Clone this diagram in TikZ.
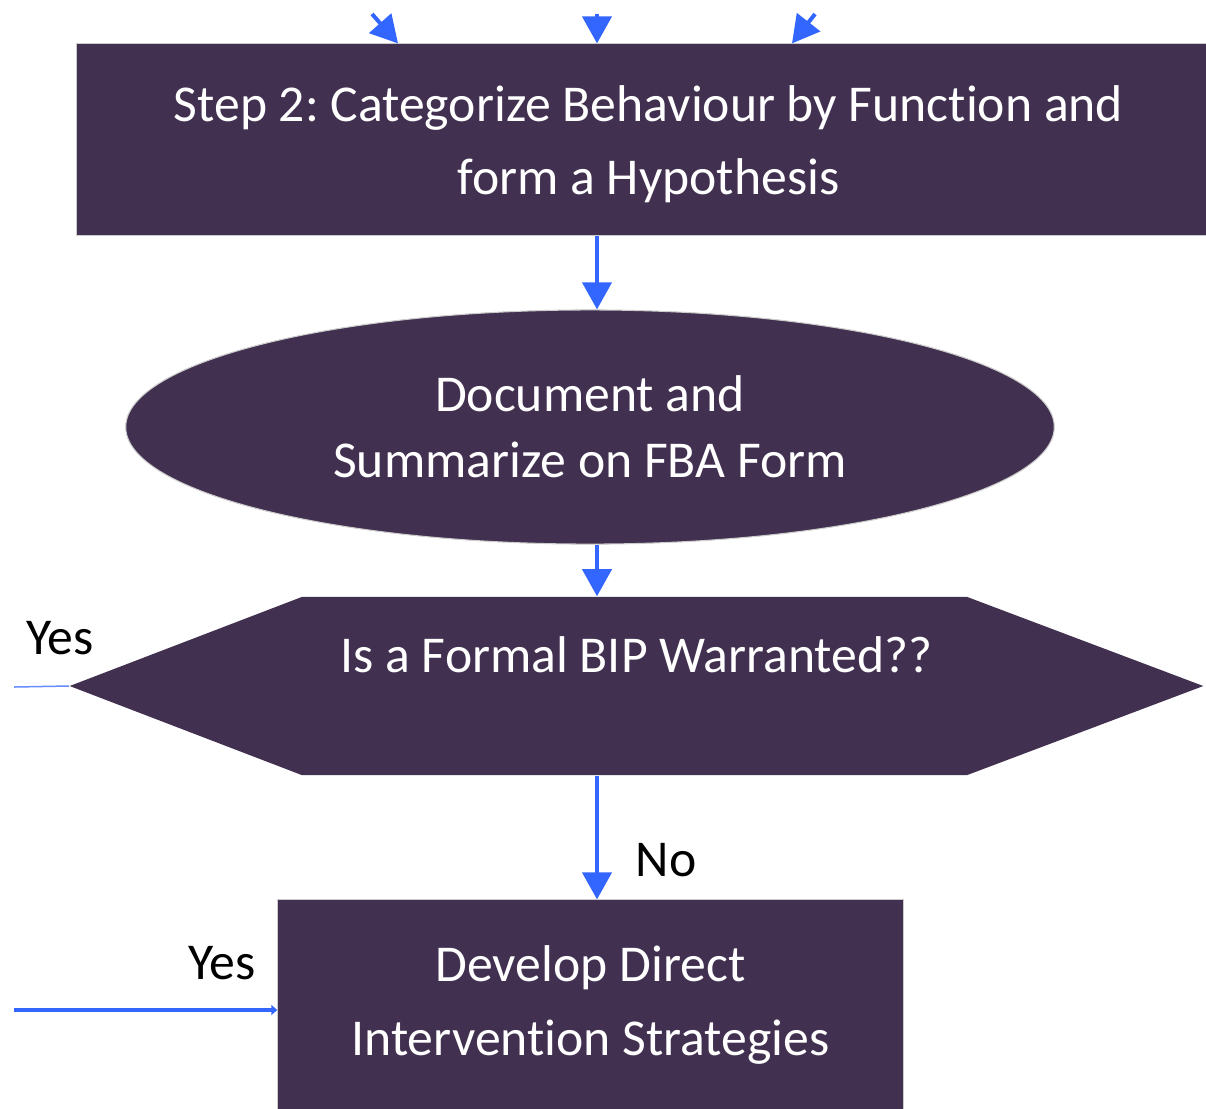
\documentclass[tikz,border=0pt]{standalone}
\usepackage{fontspec}
\setmainfont{Carlito}[Ligatures=NoCommon]
\usetikzlibrary{shapes.geometric,arrows.meta}
\definecolor{boxpurple}{RGB}{66,48,80}
\definecolor{flowblue}{RGB}{51,102,255}
\frenchspacing
\begin{document}
\begin{tikzpicture}[x=0.01cm,y=-0.01cm,
box/.style={fill=boxpurple,draw=black!20,line width=0.3pt,text=white,align=center,inner sep=0pt,font=\fontsize{14.7}{20.8}\selectfont},
hexbox/.style={text=white,inner sep=0pt,font=\fontsize{14.7}{20.8}\selectfont,
  path picture={\fill[boxpurple] (path picture bounding box.west)
    -- ([xshift=2.32cm]path picture bounding box.north west) -- ([xshift=-2.36cm]path picture bounding box.north east)
    -- (path picture bounding box.east)
    -- ([xshift=-2.36cm]path picture bounding box.south east) -- ([xshift=2.32cm]path picture bounding box.south west) -- cycle;}},
flow/.style={draw=flowblue,line width=0.04cm,-{Triangle[width=0.29cm,length=0.27cm]}},
yesline/.style={draw=flowblue!75,line width=0.015cm},
lbl/.style={font=\fontsize{14.7}{20.8}\selectfont,inner sep=0pt}]
\useasboundingbox (0,0) rectangle (1206,1108);
\node[box,minimum width=11.43cm,minimum height=1.91cm] (step2) at (648.5,139.5) {\rule{0pt}{0.46cm}Step 2: Categorize Behaviour by Function and\\form a Hypothesis};
\node[box,ellipse,minimum width=9.28cm,minimum height=2.34cm,font=\fontsize{14.7}{18.8}\selectfont] (doc) at (590,427) {Document and\\Summarize on FBA Form};
\node[hexbox,minimum width=11.33cm,minimum height=1.78cm,text height=0.4cm,text depth=0.68cm] (bip) at (636.5,686) {Is a Formal BIP Warranted??};
\node[box,minimum width=6.25cm,minimum height=2.1cm] (dev) at (590.5,1005) {Develop Direct\\Intervention Strategies};
\coordinate (in1) at (372,14);
\coordinate (in2) at (597,14);
\coordinate (in3) at (815,14);
\coordinate (yesA) at (14,687);
\coordinate (yesB) at (14,1010);
\node[lbl] (yes1) at (60,638) {Yes};
\node[lbl] (yes2) at (222,963) {Yes};
\node[lbl] (no) at (666,860) {No};
\draw[flow] (in1) -- (step2.north -| 398,0);
\draw[flow] (in2) -- (step2.north -| 597,0);
\draw[flow] (in3) -- (step2.north -| 792,0);
\draw[flow] (step2.south -| 597,0) -- (doc.north -| 597,0);
\draw[flow] (doc.south -| 597,0) -- (bip.north -| 597,0);
\draw[flow] (bip.south -| 597,0) -- (dev.north -| 597,0);
\draw[yesline] (yesA) -- (bip.west);
\draw[flow,line width=0.035cm,-{Triangle[width=0.1cm,length=0.06cm]}] (yesB) -- (yesB -| dev.west);
\end{tikzpicture}
\end{document}
